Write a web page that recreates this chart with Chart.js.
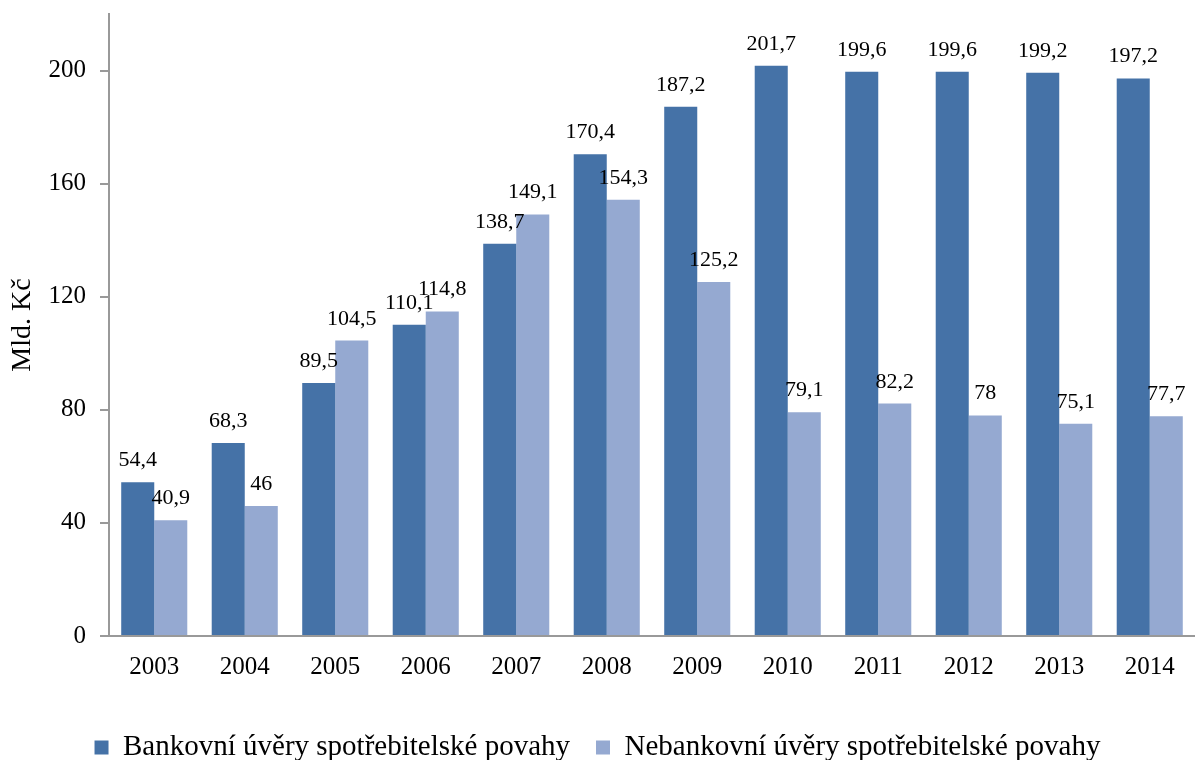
<!DOCTYPE html>
<html>
<head>
<meta charset="utf-8">
<script src="https://cdn.jsdelivr.net/npm/chart.js@4.4.1/dist/chart.umd.min.js"></script>
<style>
  html, body { margin: 0; padding: 0; background: #fff; }
  #wrap { width: 1195px; height: 760px; }
</style>
</head>
<body>
<div id="wrap"><canvas id="chart" width="1195" height="760"></canvas></div>
<script>
// roky
const years = ['2003', '2004', '2005', '2006', '2007', '2008', '2009', '2010', '2011', '2012', '2013', '2014'];
// Bankovní úvěry (mld. Kč)
const bankValues = [54.4, 68.3, 89.5, 110.1, 138.7, 170.4, 187.2, 201.7, 199.6, 199.6, 199.2, 197.2];
// Nebankovní úvěry (mld. Kč)
const nonBankValues = [40.9, 46, 104.5, 114.8, 149.1, 154.3, 125.2, 79.1, 82.2, 78, 75.1, 77.7];
// popisky osy Y
const yTicks = [0, 40, 80, 120, 160, 200];

const FONT = "'Liberation Serif', 'Times New Roman', serif";

// popisky hodnot nad sloupci
const valueLabels = {
  id: 'valueLabels',
  afterDatasetsDraw(chart) {
    const ctx = chart.ctx;
    ctx.save();
    ctx.font = '22px ' + FONT;
    ctx.fillStyle = '#000';
    ctx.textAlign = 'center';
    ctx.textBaseline = 'alphabetic';
    chart.data.datasets.forEach((ds, i) => {
      const meta = chart.getDatasetMeta(i);
      meta.data.forEach((bar, j) => {
        const txt = String(ds.data[j]).replace('.', ',');
        ctx.fillText(txt, bar.x, bar.y - 16);
      });
    });
    ctx.restore();
  }
};

new Chart(document.getElementById('chart'), {
  type: 'bar',
  data: {
    labels: years,
    datasets: [
      {
        label: 'Bankovní úvěry spotřebitelské povahy',
        data: bankValues,
        backgroundColor: '#4572A7',
        categoryPercentage: 0.73,
        barPercentage: 1.0
      },
      {
        label: 'Nebankovní úvěry spotřebitelské povahy',
        data: nonBankValues,
        backgroundColor: '#95A9D1',
        categoryPercentage: 0.73,
        barPercentage: 1.0
      }
    ]
  },
  options: {
    responsive: false,
    animation: false,
    layout: { padding: { top: 14, right: 0, left: 0, bottom: -12 } },
    plugins: {
      legend: {
        position: 'bottom',
        labels: {
          boxWidth: 14,
          boxHeight: 14,
          padding: 26,
          color: '#000',
          font: { family: FONT, size: 29 }
        }
      },
      tooltip: { enabled: false }
    },
    scales: {
      x: {
        grid: { display: false, drawTicks: false },
        border: { color: '#999', width: 2 },
        ticks: {
          color: '#000',
          padding: 16,
          font: { family: FONT, size: 25 },
          maxRotation: 0
        },
        afterFit(scale) {
          scale.height = 71;
          scale.paddingLeft = 0;
          scale.paddingRight = 0;
        }
      },
      y: {
        min: 0,
        max: 220,
        grid: { drawOnChartArea: false, color: '#999', tickLength: 9, lineWidth: 2 },
        border: { color: '#999', width: 2 },
        ticks: {
          stepSize: 40,
          color: '#000',
          padding: 14,
          font: { family: FONT, size: 25 }
        },
        afterBuildTicks(scale) {
          scale.ticks = yTicks.map(v => ({ value: v }));
        },
        title: {
          display: true,
          text: 'Mld. Kč',
          color: '#000',
          font: { family: FONT, size: 28 },
          padding: { top: 6, bottom: 0 }
        },
        afterFit(scale) {
          scale.width = 109;
          scale.paddingTop = 0;
          scale.paddingBottom = 0;
        }
      }
    }
  },
  plugins: [valueLabels]
});
</script>
</body>
</html>
